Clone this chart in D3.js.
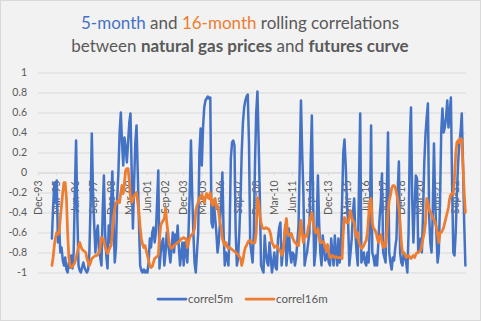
<!DOCTYPE html>
<html>
<head>
<meta charset="utf-8">
<script src="https://cdn.jsdelivr.net/npm/d3@7"></script>
<style>
  html, body { margin: 0; padding: 0; background: #fff; }
  svg { display: block; font-family: Lato, "Open Sans", sans-serif; }
</style>
</head>
<body>
<div id="chart"></div>
<script>
// monthly categories Dec-93 .. May-23
const fmt = d3.timeFormat("%b-%y")
const categories = d3.timeMonth.range(new Date(1993, 11, 1), new Date(2023, 5, 1)).map(fmt)

// both series start in Nov-94
const seriesStart = "Nov-94"

const correl5m = [
  -0.66, -0.35,
  -0.1, -0.3, -0.08, -0.7, -0.55, -0.8, -0.75, -0.88, -0.93, -0.85, -0.97, -1.0,
  -0.9, -0.95, -0.83, -0.96, -0.8, -0.2, 0.32, -0.4, -0.93, -0.98, -1.0, -0.95,
  -0.9, -0.95, -0.98, -1.0, -0.97, -0.8, -0.3, 0.39, -0.2, -0.53, -0.8, -0.6,
  -0.53, -0.8, -0.85, -0.93, -0.4, -0.03, -0.6, -0.83, -0.96, -0.53, -0.7, -0.3,
  0.01, -0.5, -0.9, -0.75, -0.26, 0.0, 0.4, 0.6, 0.3, 0.07, 0.35, 0.25,
  0.1, 0.3, 0.5, 0.59, 0.0, -0.56, -0.1, 0.3, 0.47, 0.0, -0.5, -0.93,
  -0.98, -1.0, -0.97, -1.0, -0.98, -1.0, -0.9, -0.66, -0.75, -0.6, -0.55, -0.7,
  -0.6, -0.3, 0.02, -0.96, -0.8, -0.7, -0.66, -0.93, -0.8, -0.6, -0.7, -0.8,
  -0.9, -0.75, -0.6, -0.8, -0.62, -0.7, -0.53, -0.75, -0.93, -0.8, -0.7, -0.93,
  -0.7, -0.8, -0.9, -0.6, -0.2, 0.32, -0.2, -0.6, -0.9, -1.0, -0.8, -0.6,
  0.2, 0.44, 0.07, 0.45, 0.65, 0.72, 0.74, 0.76, 0.74, 0.75, -0.5, -0.55,
  -0.3, -0.45, -0.6, -0.8, -0.7, -0.5, -0.3, 0.0, -0.6, -0.93, -0.8, -0.85,
  -0.93, -0.6, 0.14, 0.3, 0.32, 0.27, -0.6, -0.93, -0.85, -0.6, -0.26, 0.2,
  0.5, 0.65, 0.72, 0.76, 0.78, 0.3, -0.7, -0.8, -0.9, -0.6, 0.1, 0.6,
  0.81, 0.3, -0.26, -0.93, -0.97, -1.0, -0.63, -0.8, -0.9, -0.93, -0.7, -0.85,
  -1.0, -0.9, -0.8, -0.95, -0.97, -0.66, -0.55, -0.5, -0.93, -0.8, -0.7, -0.53,
  -0.93, -0.75, -0.56, -0.8, -0.9, -0.8, -0.82, -0.93, -0.85, -0.7, -0.53, 0.1,
  0.72, 0.2, -0.2, -0.93, -0.85, -0.8, -0.7, -0.6, 0.1, 0.57, -0.26, -0.93,
  -0.8, -0.53, -0.03, -0.5, -0.8, -0.93, -0.63, -0.75, -0.88, -0.85, -0.8, -0.9,
  -0.93, -0.66, -0.8, -0.93, -0.63, -0.8, -0.93, -0.66, -0.9, -0.8, -0.3, 0.2,
  0.33, 0.07, -0.3, -0.5, -0.93, -0.8, -0.66, -0.4, -0.26, -0.6, -0.8, -0.93,
  -0.1, 0.59, -0.9, -0.85, -0.8, -0.9, -0.93, -0.8, -0.9, -0.5, 0.47, -0.8,
  -0.85, -0.93, -0.83, -0.93, -0.7, -0.46, -0.3, -0.01, -0.8, -0.85, -0.9, -0.2,
  0.4, -0.8, -0.9, -0.97, -0.85, -0.88, -0.75, -0.66, -0.2, 0.11, -0.8, -0.9,
  -0.93, -0.8, -0.83, -0.9, -1.0, -0.6, 0.3, 0.65, -0.26, -0.7, -0.35, -0.03,
  -0.06, -0.8, -0.7, -0.66, -0.8, -0.4, 0.1, 0.38, 0.55, 0.69, -0.43, -0.7,
  -0.8, -0.4, 0.29, -0.3, -0.6, -0.9, -0.8, -0.3, 0.4, 0.64, 0.4, 0.45,
  0.55, 0.72, 0.45, 0.6, 0.75, -0.1, -0.8, -0.83, -0.6, -0.2, 0.1, 0.3,
  0.4, 0.59, 0.1, -0.5, -0.93
]

const correl16m = [
  -0.93, -0.85,
  -0.73, -0.65, -0.6, -0.62, -0.6, -0.45, -0.33, -0.2, -0.1, -0.1, -0.25, -0.6,
  -0.85, -0.93, -0.95, -0.94, -0.92, -0.9, -0.85, -0.8, -0.74, -0.7, -0.74, -0.77,
  -0.78, -0.79, -0.8, -0.86, -0.9, -0.93, -0.9, -0.86, -0.85, -0.84, -0.83, -0.83,
  -0.82, -0.8, -0.75, -0.65, -0.66, -0.68, -0.74, -0.78, -0.81, -0.78, -0.75, -0.73,
  -0.6, -0.46, -0.36, -0.3, -0.29, -0.28, -0.3, -0.2, -0.13, -0.21, -0.1, 0.02,
  0.04, 0.04, -0.08, -0.25, -0.3, -0.27, -0.23, -0.22, -0.2, -0.3, -0.4, -0.55,
  -0.66, -0.72, -0.75, -0.73, -0.78, -0.83, -0.88, -0.93, -0.95, -0.94, -0.9, -0.86,
  -0.85, -0.84, -0.83, -0.65, -0.53, -0.5, -0.48, -0.46, -0.36, -0.5, -0.6, -0.72,
  -0.74, -0.76, -0.75, -0.73, -0.72, -0.71, -0.7, -0.69, -0.68, -0.66, -0.66, -0.65,
  -0.66, -0.66, -0.75, -0.7, -0.65, -0.63, -0.62, -0.6, -0.56, -0.38, -0.33, -0.3,
  -0.26, -0.24, -0.22, -0.25, -0.3, -0.25, -0.21, -0.25, -0.26, -0.2, -0.3, -0.33,
  -0.28, -0.26, -0.35, -0.33, -0.4, -0.5, -0.55, -0.66, -0.7, -0.73, -0.7, -0.74,
  -0.76, -0.75, -0.76, -0.77, -0.78, -0.79, -0.8, -0.81, -0.82, -0.84, -0.86, -0.93,
  -0.88, -0.8, -0.75, -0.73, -0.7, -0.68, -0.68, -0.7, -0.7, -0.7, -0.7, -0.6,
  -0.25, -0.3, -0.43, -0.5, -0.55, -0.56, -0.56, -0.55, -0.56, -0.56, -0.58, -0.62,
  -0.7, -0.72, -0.75, -0.74, -0.73, -0.75, -0.78, -0.78, -0.83, -0.8, -0.7, -0.55,
  -0.46, -0.6, -0.63, -0.62, -0.61, -0.65, -0.68, -0.7, -0.71, -0.73, -0.73, -0.6,
  -0.48, -0.6, -0.7, -0.63, -0.63, -0.64, -0.55, -0.5, -0.45, -0.4, -0.5, -0.55,
  -0.6, -0.6, -0.56, -0.65, -0.7, -0.7, -0.69, -0.7, -0.75, -0.78, -0.72, -0.8,
  -0.85, -0.85, -0.83, -0.84, -0.85, -0.84, -0.85, -0.85, -0.85, -0.85, -0.86, -0.6,
  -0.45, -0.48, -0.5, -0.5, -0.45, -0.38, -0.45, -0.48, -0.5, -0.6, -0.65, -0.6,
  -0.7, -0.73, -0.76, -0.75, -0.73, -0.7, -0.68, -0.6, -0.43, -0.3, -0.26, -0.5,
  -0.56, -0.57, -0.6, -0.65, -0.7, -0.64, -0.62, -0.7, -0.75, -0.7, -0.74, -0.6,
  -0.4, -0.28, -0.23, -0.16, -0.13, -0.13, -0.15, -0.2, -0.27, -0.36, -0.5, -0.7,
  -0.8, -0.8, -0.82, -0.85, -0.84, -0.83, -0.85, -0.86, -0.84, -0.83, -0.85, -0.82,
  -0.8, -0.8, -0.79, -0.78, -0.72, -0.66, -0.6, -0.5, -0.26, -0.3, -0.37, -0.4,
  -0.42, -0.46, -0.47, -0.5, -0.55, -0.62, -0.7, -0.6, -0.6, -0.58, -0.55, -0.5,
  -0.45, -0.4, -0.35, -0.26, -0.22, -0.21, -0.22, -0.05, 0.19, 0.3, 0.32, 0.3,
  0.34, 0.33, 0.07, -0.2, -0.4
]

const xTickLabels = [
  "Dec-93", "Mar-95", "Jun-96", "Sep-97", "Dec-98", "Mar-00", "Jun-01", "Sep-02",
  "Dec-03", "Mar-05", "Jun-06", "Sep-07", "Dec-08", "Mar-10", "Jun-11", "Sep-12",
  "Dec-13", "Mar-15", "Jun-16", "Sep-17", "Dec-18", "Mar-20", "Jun-21", "Sep-22"
]
const yTickValues = [-1, -0.8, -0.6, -0.4, -0.2, 0, 0.2, 0.4, 0.6, 0.8, 1]

const colors = { blue: "#4472c4", orange: "#ed7d31", text: "#595959", grid: "#d9d9d9" }

const width = 481, height = 321
const plot = { left: 38, right: 466, top: 72.5, bottom: 272.5 }

const svg = d3.select("#chart").append("svg")
  .attr("width", width)
  .attr("height", height)

svg.append("rect")
  .attr("x", 0.5).attr("y", 0.5)
  .attr("width", width - 1).attr("height", height - 1)
  .attr("fill", "#f2f2f2")
  .attr("stroke", colors.grid)

const x = d3.scaleBand().domain(categories).range([plot.left, plot.right])
const y = d3.scaleLinear().domain([-1, 1]).range([plot.bottom, plot.top])
const cx = d => x(d) + x.bandwidth() / 2

// gridlines + y labels
const yAxis = svg.append("g")
  .attr("transform", `translate(${plot.left},0)`)
  .call(d3.axisLeft(y).tickValues(yTickValues).tickSize(-(plot.right - plot.left)).tickPadding(11)
    .tickFormat(d => String(+d.toFixed(1))))
yAxis.select(".domain").remove()
yAxis.selectAll("line").attr("stroke", colors.grid)
yAxis.selectAll("text")
  .attr("fill", colors.text)
  .style("font-size", "10.5px")
  .style("font-family", "Lato, sans-serif")

// category axis sits on the zero line
const xAxis = svg.append("g")
  .attr("transform", `translate(0,${y(0)})`)
  .call(d3.axisBottom(x).tickValues(xTickLabels).tickSizeInner(3).tickSizeOuter(0))
xAxis.select(".domain").attr("stroke", colors.grid)
xAxis.selectAll("line").attr("stroke", colors.grid)
xAxis.selectAll("text")
  .attr("transform", "rotate(-90)")
  .attr("text-anchor", "end")
  .attr("x", -8)
  .attr("y", 0)
  .attr("dy", "0.35em")
  .attr("fill", colors.text)
  .style("font-size", "10.5px")
  .style("font-family", "Lato, sans-serif")

const offset = categories.indexOf(seriesStart)
const toPoints = values => values.map((v, i) => [cx(categories[offset + i]), y(v)])

const line = d3.line()

svg.append("path")
  .attr("d", line(toPoints(correl5m)))
  .attr("fill", "none")
  .attr("stroke", colors.blue)
  .attr("stroke-width", 2.5)
  .attr("stroke-linejoin", "round")
  .attr("stroke-linecap", "round")

svg.append("path")
  .attr("d", line(toPoints(correl16m)))
  .attr("fill", "none")
  .attr("stroke", colors.orange)
  .attr("stroke-width", 2.75)
  .attr("stroke-linejoin", "round")
  .attr("stroke-linecap", "round")

// title
const title = svg.append("text")
  .attr("text-anchor", "middle")
  .attr("fill", colors.text)
  .style("font-size", "17px")

const line1 = title.append("tspan").attr("x", 240).attr("y", 29)
line1.append("tspan").attr("fill", colors.blue).text("5-month")
line1.append("tspan").text(" and ")
line1.append("tspan").attr("fill", colors.orange).text("16-month")
line1.append("tspan").text(" rolling correlations")

const line2 = title.append("tspan").attr("x", 240).attr("y", 51.5)
line2.append("tspan").text("between ")
line2.append("tspan").attr("font-weight", "bold").text("natural gas prices")
line2.append("tspan").text(" and ")
line2.append("tspan").attr("font-weight", "bold").text("futures curve")

// legend
const legendItems = [
  { name: "correl5m", color: colors.blue, x: 158 },
  { name: "correl16m", color: colors.orange, x: 246 }
]
const legend = svg.append("g")
  .selectAll("g")
  .data(legendItems)
  .join("g")
  .attr("transform", d => `translate(${d.x},299)`)

legend.append("line")
  .attr("x1", 0).attr("x2", 28)
  .attr("stroke", d => d.color)
  .attr("stroke-width", 2.75)
  .attr("stroke-linecap", "round")

legend.append("text")
  .attr("x", 30)
  .attr("dy", "0.35em")
  .attr("fill", colors.text)
  .style("font-size", "11.5px")
  .text(d => d.name)
</script>
</body>
</html>
